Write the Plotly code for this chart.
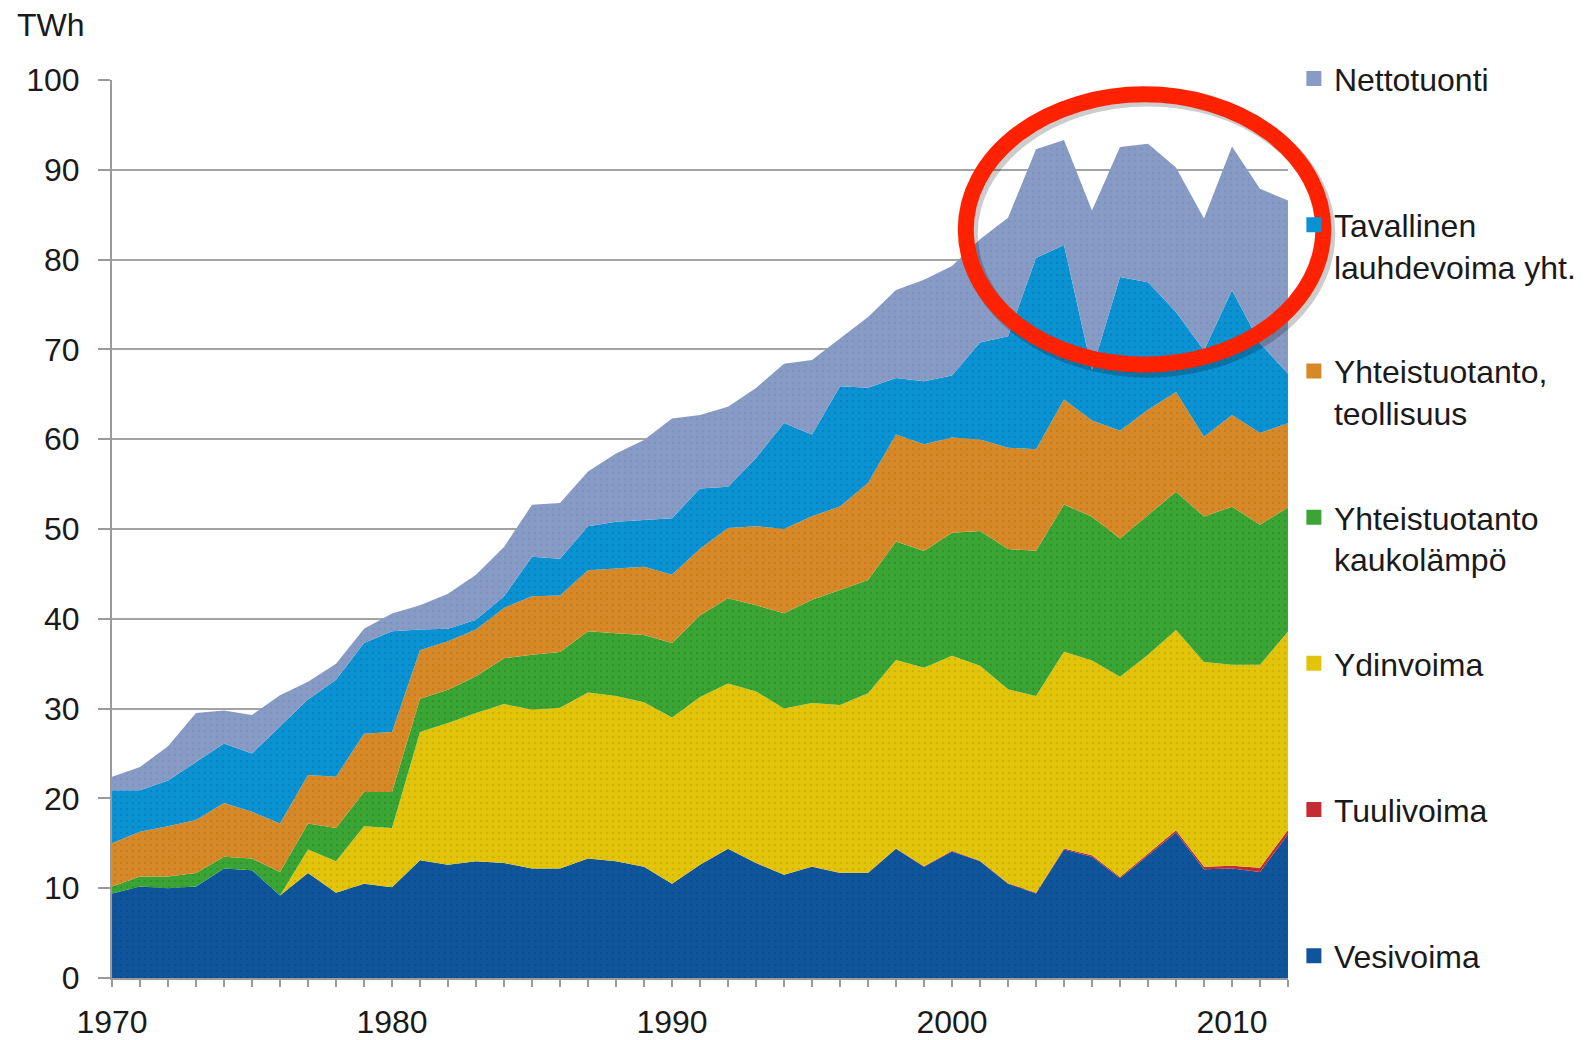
import plotly.graph_objects as go

years = list(range(1970, 2013))

vesivoima = [9.4, 10.2, 10.0, 10.2, 12.2, 12.0, 9.2, 11.7, 9.5, 10.5,
             10.1, 13.1, 12.6, 13.0, 12.8, 12.2, 12.2, 13.3, 13.0, 12.4,
             10.5, 12.6, 14.4, 12.8, 11.5, 12.4, 11.7, 11.7, 14.4, 12.4,
             14.1, 13.0, 10.5, 9.4, 14.3, 13.5, 11.1, 13.7, 16.2, 12.1,
             12.2, 11.8, 16.0]
tuulivoima = [0] * 22 + [0.0, 0.01, 0.01, 0.01, 0.01, 0.02, 0.02, 0.05,
                         0.08, 0.07, 0.06, 0.09, 0.12, 0.17, 0.15, 0.19,
                         0.26, 0.28, 0.29, 0.48, 0.49]
ydinvoima = [0] * 7 + [2.6, 3.5, 6.4, 6.6, 14.3, 15.8, 16.5, 17.7, 17.7,
                       17.9, 18.5, 18.4, 18.3, 18.5, 18.7, 18.4, 19.1, 18.5,
                       18.2, 18.7, 20.0, 21.0, 22.1, 21.7, 21.7, 21.6, 21.9,
                       21.9, 21.7, 22.3, 22.1, 22.3, 22.8, 22.4, 22.6, 22.1]
kaukolampo = [0.8, 1.1, 1.3, 1.5, 1.3, 1.3, 2.6, 2.9, 3.7, 3.8,
              4.0, 3.7, 3.7, 4.1, 5.1, 6.1, 6.2, 6.8, 7.0, 7.5,
              8.3, 9.1, 9.5, 9.6, 10.6, 11.5, 12.8, 12.6, 13.2, 13.0,
              13.7, 15.0, 15.6, 16.2, 16.4, 16.0, 15.4, 15.6, 15.4, 16.2,
              17.6, 15.6, 13.8]
teollisuus = [4.8, 5.0, 5.6, 5.9, 6.0, 5.2, 5.4, 5.4, 5.7, 6.5,
              6.7, 5.4, 5.4, 5.2, 5.6, 6.5, 6.3, 6.8, 7.2, 7.6,
              7.6, 7.4, 7.8, 8.8, 9.4, 9.3, 9.3, 10.8, 11.9, 11.9,
              10.6, 10.2, 11.3, 11.3, 11.7, 10.7, 12.0, 11.7, 11.1, 8.9,
              10.2, 10.2, 9.4]
lauhdevoima = [5.9, 4.6, 5.1, 6.5, 6.6, 6.5, 10.8, 8.4, 10.8, 10.1,
               11.2, 2.3, 1.4, 1.1, 1.3, 4.4, 4.1, 4.9, 5.2, 5.2,
               6.3, 6.7, 4.6, 7.6, 11.8, 9.1, 13.4, 10.6, 6.3, 7.0,
               6.9, 10.8, 12.4, 21.3, 17.2, 5.6, 17.1, 14.2, 8.9, 9.6,
               13.9, 10.0, 5.5]
nettotuonti = [1.5, 2.6, 3.8, 5.4, 3.7, 4.3, 3.5, 2.0, 1.8, 1.6,
               2.0, 2.7, 3.9, 5.0, 5.5, 5.8, 6.2, 6.1, 7.6, 8.9,
               11.1, 8.2, 8.9, 7.8, 6.6, 8.3, 5.3, 7.9, 9.8, 11.3,
               12.2, 11.5, 13.2, 12.1, 11.7, 17.8, 14.5, 15.4, 16.1, 14.7,
               16.0, 17.2, 19.3]

series_names = ["Vesivoima", "Tuulivoima", "Ydinvoima",
                "Yhteistuotanto<br>kaukolämpö",
                "Yhteistuotanto,<br>teollisuus",
                "Tavallinen<br>lauhdevoima yht.",
                "Nettotuonti"]
series_values = [vesivoima, tuulivoima, ydinvoima, kaukolampo,
                 teollisuus, lauhdevoima, nettotuonti]
series_colors = ["#0f559c", "#c62a32", "#e2c40a", "#3aa534",
                 "#d78928", "#0a92d2", "#879bc4"]
dot_colors = ["#0a3f78", "#8f1a20", "#b89c00", "#267a22",
              "#b06a18", "#0670a6", "#6f86b8"]

y_ticks = list(range(0, 101, 10))
x_ticks = [1970, 1980, 1990, 2000, 2010]

FONT = "Liberation Sans, Arial, sans-serif"
FS = 32

fig = go.Figure()

for name, vals, col, dcol in zip(series_names, series_values,
                                 series_colors, dot_colors):
    fig.add_trace(go.Scatter(
        x=years, y=vals, name=name, mode="lines",
        stackgroup="one", line=dict(width=0, color=col),
        fillcolor=col,
        fillpattern=dict(shape=".", bgcolor=col, fgcolor=dcol,
                         fgopacity=0.45, size=6, solidity=0.12),
        showlegend=False, hoverinfo="x+y+name"))

# legend proxies (top to bottom as in the reference)
for name, col in reversed(list(zip(series_names, series_colors))):
    if "<br>" in name or name == "Vesivoima":
        label = name
    else:
        label = name + "<br> "
    fig.add_trace(go.Scatter(
        x=[None], y=[None], mode="markers", name=label,
        legendgroup=name,
        marker=dict(symbol="square", size=15, color=col),
        showlegend=True))

# red ellipse highlight (with soft shadow)
fig.add_shape(type="circle", xref="paper", yref="paper",
              x0=0.729, x1=1.033, y0=0.678, y1=0.980,
              line=dict(color="rgba(0,0,0,0.2)", width=17), layer="above")
fig.add_shape(type="circle", xref="paper", yref="paper",
              x0=0.726, x1=1.030, y0=0.683, y1=0.984,
              line=dict(color="#ff2200", width=16), layer="above")

fig.add_annotation(text="TWh", xref="paper", yref="paper",
                   x=-0.0825, y=1.0608, xanchor="left", yanchor="middle",
                   showarrow=False,
                   font=dict(family=FONT, size=FS, color="#1a1a1a"))

# page body has an 8px margin: size/margins compensate so the plot area
# lands at x 112-1288, y 80-978 in the 1594x1040 window
fig.update_layout(
    width=1586, height=1032,
    margin=dict(l=104, r=306, t=72, b=62, autoexpand=False),
    paper_bgcolor="white", plot_bgcolor="white",
    font=dict(family=FONT, size=FS, color="#1a1a1a"),
    showlegend=True,
    legend=dict(x=1.005, y=1.032, xanchor="left", yanchor="top",
                traceorder="grouped", tracegroupgap=60, valign="top",
                maxheight=1032,
                font=dict(family=FONT, size=FS, color="#1a1a1a"),
                bgcolor="rgba(0,0,0,0)", itemclick=False),
    xaxis=dict(range=[1970, 2012], tickmode="array", tickvals=x_ticks,
               ticktext=[str(v) for v in x_ticks], automargin=False,
               showgrid=False, zeroline=False,
               showline=True, linecolor="#9a9a9a", linewidth=2,
               ticks="outside", ticklen=7, tickcolor="#9a9a9a", tickwidth=2,
               minor=dict(dtick=1, ticks="outside", ticklen=7,
                          tickcolor="#9a9a9a", tickwidth=2, showgrid=False),
               ticklabelstandoff=8,
               tickfont=dict(family=FONT, size=FS, color="#1a1a1a")),
    yaxis=dict(range=[0, 100], tickmode="array", tickvals=y_ticks,
               automargin=False,
               showgrid=True, gridcolor="#a3a3a3", gridwidth=2,
               zeroline=False, showline=True, linecolor="#9a9a9a",
               linewidth=2, ticks="outside", ticklen=12,
               tickcolor="#9a9a9a", tickwidth=2, ticklabelstandoff=12,
               tickfont=dict(family=FONT, size=FS, color="#1a1a1a")),
)

fig.write_html("out.html")
